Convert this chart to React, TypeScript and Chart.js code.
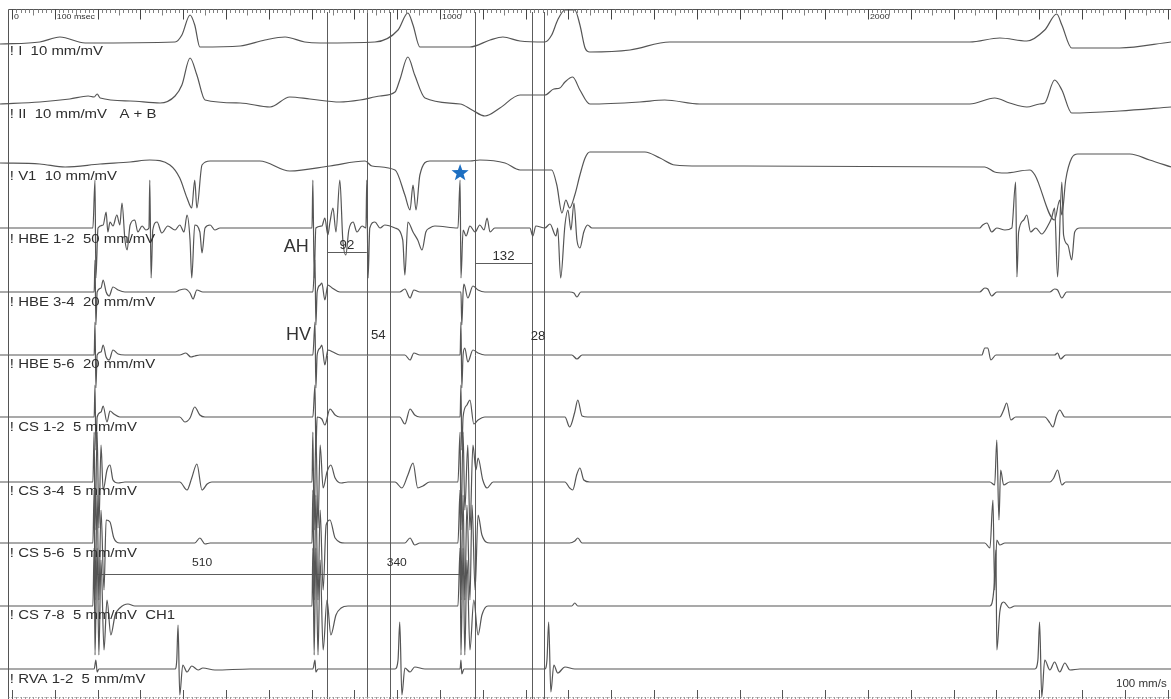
import React, { useEffect, useRef } from 'react';
import { Chart, registerables } from 'chart.js';

Chart.register(...registerables);

// ---------------- DATA (time in ms, amplitude in display units, up = positive) ----------------
const TIME_MIN = -28;
const TIME_MAX = 2708;

const channelLabels = [
  '! I  10 mm/mV',
  '! II  10 mm/mV   A + B',
  '! V1  10 mm/mV',
  '! HBE 1-2  50 mm/mV',
  '! HBE 3-4  20 mm/mV',
  '! HBE 5-6  20 mm/mV',
  '! CS 1-2  5 mm/mV',
  '! CS 3-4  5 mm/mV',
  '! CS 5-6  5 mm/mV',
  '! CS 7-8  5 mm/mV  CH1',
  '! RVA 1-2  5 mm/mV',
];

const leadI: number[][] = [[-28,-1],[65,1],[112,6],[171,0],[381,1],[397,8],[416,28],[427,18],[439,-4],[533,-3],[591,3],[638,6],[684,1],[720,0],[848,1],[902,13],[925,30],[937,18],[953,-4],[1070,-4],[1117,3],[1147,6],[1187,2],[1245,1],[1261,8],[1275,23],[1292,33],[1315,33],[1327,18],[1339,-5],[1350,-9],[1444,-7],[1537,1],[2238,1],[2308,5],[2371,2],[2413,13],[2441,29],[2453,18],[2476,-5],[2588,-5],[2708,1]];

const leadII: number[][] = [[-28,-4],[65,-2],[135,1],[178,4],[192,3],[199,6],[206,2],[276,-1],[346,-3],[381,4],[397,15],[416,42],[432,25],[451,0],[533,-3],[603,-7],[649,3],[696,1],[766,-2],[813,0],[860,4],[895,8],[906,20],[925,43],[941,25],[965,2],[1047,-4],[1075,-10],[1105,-16],[1140,-8],[1187,5],[1245,5],[1266,11],[1280,12],[1292,18],[1310,23],[1327,10],[1350,-4],[1467,-2],[1525,0],[1607,-4],[2238,-4],[2296,2],[2331,-3],[2371,-7],[2401,-4],[2413,-3],[2436,20],[2453,10],[2476,-13],[2588,-11],[2708,-7]];

const leadV1: number[][] = [[-28,0],[65,-1],[124,-4],[206,-1],[276,1],[322,3],[369,-2],[392,-15],[409,-35],[420,-45],[427,-17],[432,-45],[444,-2],[463,2],[579,2],[649,-8],[743,-3],[825,2],[841,-3],[895,-7],[918,-32],[930,-47],[937,-22],[944,-47],[953,-12],[976,2],[1070,2],[1093,3],[1152,0],[1187,-7],[1261,-7],[1273,-22],[1285,-50],[1294,-37],[1303,-45],[1315,-32],[1327,-12],[1339,5],[1350,11],[1479,11],[1514,5],[1549,-2],[1607,-3],[2273,-4],[2296,-9],[2320,-10],[2378,-7],[2390,-12],[2436,-57],[2448,-37],[2453,-52],[2462,-17],[2476,5],[2490,9],[2612,9],[2658,3],[2708,-4]];

const hbe12: number[][] = [[-28,0],[189,0],[194,48],[196,-50],[201,0],[213,3],[220,16],[224,-4],[229,6],[236,2],[245,13],[252,3],[257,25],[264,-12],[269,-22],[276,3],[287,8],[294,-4],[304,2],[313,-2],[320,0],[322,48],[325,-50],[329,-2],[339,6],[350,-5],[364,2],[381,-2],[392,3],[402,-4],[409,13],[416,-12],[420,-50],[427,3],[439,-4],[444,-25],[451,0],[463,3],[474,-2],[486,0],[701,0],[703,48],[706,-50],[710,0],[724,2],[731,10],[738,-7],[743,6],[750,20],[757,-4],[766,48],[773,-12],[780,-27],[787,-2],[797,6],[806,-4],[818,2],[827,0],[829,48],[832,-50],[836,0],[848,6],[860,0],[871,3],[895,0],[913,-12],[918,-47],[925,6],[937,-4],[948,-12],[958,-22],[967,-4],[976,0],[988,2],[1042,0],[1047,48],[1049,-50],[1054,-2],[1061,-8],[1070,2],[1082,-4],[1093,3],[1103,-2],[1110,10],[1117,-4],[1128,0],[1210,0],[1217,-8],[1224,2],[1245,0],[1257,4],[1271,-8],[1275,0],[1282,-50],[1292,3],[1299,18],[1306,-2],[1313,25],[1320,-12],[1327,-20],[1336,-4],[1345,3],[1355,0],[2261,0],[2268,3],[2278,5],[2289,-4],[2301,0],[2320,-2],[2336,0],[2345,46],[2348,-49],[2352,-4],[2364,8],[2371,13],[2380,-4],[2392,0],[2406,-6],[2420,2],[2429,10],[2436,20],[2443,-49],[2453,46],[2457,-7],[2467,-17],[2476,-32],[2483,-4],[2495,0],[2708,0]];

const hbe34: number[][] = [[-28,0],[192,0],[194,32],[196,-33],[199,0],[208,4],[213,12],[220,0],[227,-4],[236,5],[248,2],[264,0],[381,0],[392,2],[404,3],[416,-1],[423,-7],[432,2],[446,0],[703,0],[708,32],[710,-33],[713,0],[720,7],[724,9],[731,-8],[738,7],[748,4],[766,0],[906,0],[918,3],[930,-6],[939,2],[953,0],[1047,0],[1049,0],[1051,-33],[1054,0],[1056,8],[1065,-6],[1077,6],[1089,2],[1105,0],[1303,0],[1313,-1],[1320,-5],[1329,0],[2261,0],[2273,4],[2280,3],[2289,-4],[2301,0],[2425,0],[2436,3],[2443,2],[2453,-6],[2464,0],[2708,0]];

const hbe56: number[][] = [[-28,0],[192,0],[194,33],[196,-33],[199,0],[208,3],[213,10],[220,-2],[227,-5],[236,5],[248,1],[264,0],[392,0],[406,2],[418,-2],[427,-1],[439,0],[703,0],[708,33],[710,-33],[713,0],[720,7],[724,10],[731,-10],[738,5],[750,3],[766,0],[918,0],[930,-5],[939,2],[953,0],[1047,0],[1049,33],[1051,-33],[1054,0],[1058,7],[1065,-7],[1077,5],[1089,2],[1105,0],[1308,0],[1320,-4],[1332,0],[2266,0],[2273,7],[2280,7],[2287,-5],[2299,0],[2436,0],[2443,2],[2450,-4],[2462,0],[2708,0]];

const cs12: number[][] = [[-28,0],[192,0],[194,32],[196,-33],[199,0],[208,5],[213,11],[222,-5],[229,6],[238,3],[252,0],[392,0],[404,-5],[416,-1],[427,10],[439,2],[451,0],[703,0],[708,32],[710,-33],[713,0],[724,-2],[731,-8],[743,8],[755,2],[766,0],[906,0],[918,-7],[930,8],[941,2],[953,0],[1047,0],[1049,32],[1051,-33],[1054,0],[1063,12],[1070,17],[1079,-7],[1089,-3],[1105,0],[1292,0],[1303,-10],[1315,5],[1322,17],[1332,1],[1345,0],[2308,0],[2317,7],[2324,14],[2334,-3],[2345,0],[2413,0],[2425,-6],[2432,-10],[2441,2],[2448,7],[2460,0],[2708,0]];

const cs34: number[][] = [[-28,0],[189,0],[192,50],[194,-48],[199,50],[203,-46],[208,37],[213,-8],[222,12],[229,17],[236,2],[248,-1],[264,0],[392,0],[409,-8],[420,4],[432,18],[444,-8],[456,-2],[467,0],[701,0],[703,50],[706,-48],[710,50],[715,-46],[720,37],[727,-6],[736,10],[745,17],[755,4],[769,-1],[785,0],[895,0],[911,-6],[925,7],[937,19],[948,-6],[960,-4],[976,0],[1042,0],[1047,50],[1049,-48],[1054,50],[1058,-28],[1065,37],[1070,-48],[1077,37],[1084,12],[1089,24],[1100,2],[1110,-6],[1124,0],[1292,0],[1303,-6],[1310,-8],[1320,8],[1327,14],[1336,2],[1350,0],[2285,0],[2296,-3],[2301,42],[2306,-38],[2310,12],[2317,-3],[2331,0],[2425,0],[2434,4],[2443,12],[2453,-3],[2462,0],[2708,0]];

const cs56: number[][] = [[-28,0],[189,0],[192,53],[194,-57],[199,48],[203,-57],[208,33],[215,-47],[220,23],[229,21],[238,5],[252,0],[427,0],[439,5],[451,-1],[463,0],[701,0],[703,53],[706,-57],[710,48],[715,-57],[720,33],[727,-47],[734,18],[743,23],[755,5],[778,0],[918,0],[930,5],[941,-2],[953,0],[1042,0],[1047,53],[1049,-57],[1054,48],[1058,-57],[1063,38],[1070,-57],[1075,38],[1082,-47],[1089,28],[1098,8],[1117,0],[1303,0],[1315,2],[1322,5],[1332,0],[2273,0],[2285,-5],[2292,43],[2296,-47],[2301,3],[2308,-2],[2320,0],[2708,0]];

const cs78: number[][] = [[-28,0],[189,0],[192,58],[194,-49],[199,58],[203,-49],[208,46],[215,-44],[222,6],[231,-29],[241,-9],[252,-2],[271,2],[287,0],[701,0],[703,58],[706,-49],[710,58],[715,-49],[720,46],[727,-44],[736,6],[745,-29],[757,-9],[769,-2],[785,0],[1042,0],[1047,58],[1049,-49],[1054,58],[1058,-49],[1063,46],[1070,-44],[1079,6],[1089,-29],[1098,-9],[1112,0],[1308,0],[1315,3],[1322,0],[2285,0],[2294,16],[2299,56],[2301,-44],[2308,-6],[2317,4],[2331,-2],[2343,0],[2708,0]];

const rva12: number[][] = [[-28,0],[192,0],[196,9],[199,-3],[203,0],[381,0],[385,9],[388,44],[392,-26],[399,4],[409,-3],[420,3],[435,-1],[446,1],[474,-1],[556,0],[703,0],[708,9],[710,-3],[715,0],[895,0],[902,9],[906,47],[911,-26],[918,1],[930,-3],[941,2],[965,0],[1047,0],[1049,9],[1051,-5],[1056,0],[1245,0],[1250,9],[1254,47],[1259,-23],[1266,4],[1275,-4],[1292,2],[1315,0],[2390,0],[2397,9],[2401,47],[2406,-28],[2413,9],[2425,-1],[2436,7],[2448,-3],[2460,6],[2472,-1],[2495,0],[2708,0]];

const channelData = [leadI, leadII, leadV1, hbe12, hbe34, hbe56, cs12, cs34, cs56, cs78, rva12];

// caliper marks (ms)
const caliperTimes = [736, 829, 883, 1082, 1215, 1243];
const stimTimes = [194, 708, 1047];
const intervalValues = ['92', '54', '132', '28', '510', '340'];
const rulerLabels = [
  { t: 0, text: '0' },
  { t: 100, text: '100 msec' },
  { t: 1000, text: '1000' },
  { t: 2000, text: '2000' },
];

// ---------------- LAYOUT / STYLE ----------------
const W = 1171;
const H = 699;
const rowBase = [43, 100, 163, 228, 292, 355, 417, 482, 543, 606, 669];
const labelBase = [55, 118, 180, 243, 306, 368, 431, 495, 557, 619, 683];
const TRACE = '#555555';
const INK = '#2e2e2e';

function stretchedText(ctx: CanvasRenderingContext2D, text: string, x: number, y: number, sx: number, align: 'left' | 'center' | 'right' = 'left') {
  ctx.save();
  ctx.translate(x, y);
  ctx.scale(sx, 1);
  ctx.textAlign = align;
  ctx.fillText(text, 0, 0);
  ctx.restore();
}

const overlayPlugin = {
  id: 'epOverlay',
  beforeDatasetsDraw(chart: any) {
    const { ctx, scales } = chart;
    const xs = scales.x;
    const ys = scales.y;
    ctx.save();
    ctx.lineWidth = 1;
    ctx.strokeStyle = '#5c5c5c';
    caliperTimes.forEach((t) => {
      const px = Math.round(xs.getPixelForValue(t)) + 0.5;
      ctx.beginPath();
      ctx.moveTo(px, ys.getPixelForValue(12));
      ctx.lineTo(px, ys.getPixelForValue(699));
      ctx.stroke();
    });
    const hbar = (t0: number, t1: number, yv: number) => {
      const py = Math.round(ys.getPixelForValue(yv)) + 0.5;
      ctx.beginPath();
      ctx.moveTo(xs.getPixelForValue(t0), py);
      ctx.lineTo(xs.getPixelForValue(t1), py);
      ctx.stroke();
    };
    hbar(caliperTimes[0], caliperTimes[1], 252);
    hbar(caliperTimes[3], caliperTimes[4], 263);
    hbar(stimTimes[0], stimTimes[2], 574);
    ctx.restore();
  },
  afterDatasetsDraw(chart: any) {
    const { ctx, scales } = chart;
    const xs = scales.x;
    const ys = scales.y;
    ctx.save();
    ctx.strokeStyle = '#555';
    ctx.lineWidth = 1;
    const left = Math.round(xs.getPixelForValue(-9)) + 0.5;
    ctx.beginPath();
    ctx.moveTo(left, 9.5);
    ctx.lineTo(W, 9.5);
    ctx.moveTo(left, 9.5);
    ctx.lineTo(left, H);
    ctx.stroke();
    for (let t = 0; t <= 2700; t += 10) {
      const px = Math.round(xs.getPixelForValue(t)) + 0.5;
      const len = t % 100 === 0 ? 10 : t % 50 === 0 ? 6 : 3.5;
      ctx.strokeStyle = t % 100 === 0 ? '#444' : '#808080';
      ctx.beginPath();
      ctx.moveTo(px, 9.5);
      ctx.lineTo(px, 9.5 + len);
      ctx.stroke();
    }
    ctx.strokeStyle = '#888';
    ctx.setLineDash([1, 2]);
    ctx.beginPath();
    ctx.moveTo(left, H - 1.5);
    ctx.lineTo(W, H - 1.5);
    ctx.stroke();
    ctx.setLineDash([]);
    for (let t = 0; t <= 2700; t += 10) {
      const px = Math.round(xs.getPixelForValue(t)) + 0.5;
      const major = t % 100 === 0;
      ctx.strokeStyle = major ? '#555' : '#999';
      ctx.beginPath();
      ctx.moveTo(px, H);
      ctx.lineTo(px, H - (major ? 9 : 2));
      ctx.stroke();
    }
    ctx.fillStyle = INK;
    ctx.font = '8px "Liberation Sans", Arial, sans-serif';
    ctx.textBaseline = 'alphabetic';
    rulerLabels.forEach((r) => {
      stretchedText(ctx, r.text, xs.getPixelForValue(r.t) + 2, 19, 1.1);
    });

    ctx.font = '13px "Liberation Sans", Arial, sans-serif';
    ctx.fillStyle = INK;
    channelLabels.forEach((lab, i) => {
      stretchedText(ctx, lab, xs.getPixelForValue(-5), ys.getPixelForValue(labelBase[i]), 1.15);
    });

    ctx.font = '12px "Liberation Sans", Arial, sans-serif';
    const mid = (a: number, b: number) => (a + b) / 2;
    stretchedText(ctx, intervalValues[0], xs.getPixelForValue(mid(caliperTimes[0], caliperTimes[1])), ys.getPixelForValue(249), 1.1, 'center');
    stretchedText(ctx, intervalValues[1], xs.getPixelForValue(mid(caliperTimes[1], caliperTimes[2])), ys.getPixelForValue(339), 1.1, 'center');
    stretchedText(ctx, intervalValues[2], xs.getPixelForValue(mid(caliperTimes[3], caliperTimes[4])), ys.getPixelForValue(260), 1.1, 'center');
    stretchedText(ctx, intervalValues[3], xs.getPixelForValue(mid(caliperTimes[4], caliperTimes[5])), ys.getPixelForValue(340), 1.1, 'center');
    ctx.font = '11px "Liberation Sans", Arial, sans-serif';
    stretchedText(ctx, intervalValues[4], xs.getPixelForValue(444), ys.getPixelForValue(566), 1.1, 'center');
    stretchedText(ctx, intervalValues[5], xs.getPixelForValue(899), ys.getPixelForValue(566), 1.1, 'center');

    ctx.font = '18px "Liberation Sans", Arial, sans-serif';
    ctx.fillStyle = '#333';
    stretchedText(ctx, 'AH', xs.getPixelForValue(635), ys.getPixelForValue(252), 1.0);
    stretchedText(ctx, 'HV', xs.getPixelForValue(640), ys.getPixelForValue(340), 1.0);

    ctx.font = '11px "Liberation Sans", Arial, sans-serif';
    stretchedText(ctx, '100 mm/s', xs.getPixelForValue(2698), ys.getPixelForValue(687), 1.05, 'right');

    const cx = xs.getPixelForValue(stimTimes[2]);
    const cy = ys.getPixelForValue(173);
    ctx.fillStyle = '#1d6fc2';
    ctx.beginPath();
    for (let k = 0; k < 10; k++) {
      const r = k % 2 === 0 ? 9 : 3.7;
      const a = -Math.PI / 2 + (k * Math.PI) / 5;
      const px = cx + r * Math.cos(a);
      const py = cy + r * Math.sin(a);
      if (k === 0) ctx.moveTo(px, py);
      else ctx.lineTo(px, py);
    }
    ctx.closePath();
    ctx.fill();
    ctx.restore();
  },
};

export default function App() {
  const canvasRef = useRef<HTMLCanvasElement | null>(null);

  useEffect(() => {
    document.body.style.margin = '0';
    document.body.style.overflow = 'hidden';
    document.body.style.background = '#ffffff';
    const canvas = canvasRef.current;
    if (!canvas) return;
    const datasets = channelData.map((pts, i) => ({
      label: channelLabels[i],
      data: pts.map(([t, a]) => ({ x: t, y: rowBase[i] - a })),
      borderColor: TRACE,
      borderWidth: 1.2,
      pointRadius: 0,
      showLine: true,
      cubicInterpolationMode: 'monotone' as const,
      fill: false,
    }));
    const chart = new Chart(canvas, {
      type: 'scatter',
      data: { datasets },
      options: {
        animation: false,
        responsive: false,
        devicePixelRatio: 1,
        layout: { padding: 0 },
        plugins: { legend: { display: false }, tooltip: { enabled: false } },
        scales: {
          x: { type: 'linear', min: TIME_MIN, max: TIME_MAX, display: false },
          y: { type: 'linear', min: 0, max: H, reverse: true, display: false },
        },
      },
      plugins: [overlayPlugin],
    });
    return () => chart.destroy();
  }, []);

  return (
    <div style={{ width: W, height: H, background: '#fff' }}>
      <canvas ref={canvasRef} width={W} height={H} style={{ display: 'block', width: W, height: H }} />
    </div>
  );
}
